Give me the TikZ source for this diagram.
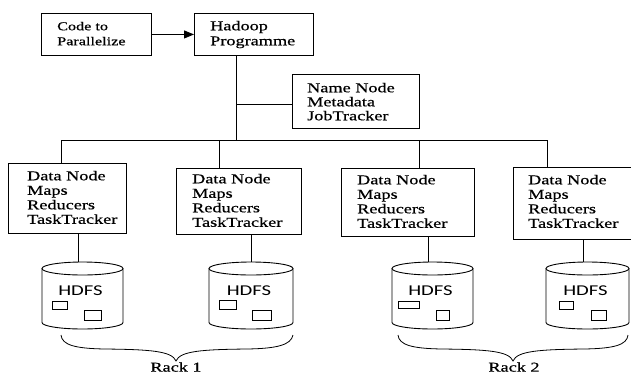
\documentclass[tikz,border=0pt]{standalone}
\usepackage{fontspec}
\setmainfont[FakeStretch=1.35,FakeBold=0.6]{Liberation Serif}
\newfontfamily\hdfsfont[FakeStretch=1.38]{Carlito}
\usetikzlibrary{arrows.meta,calc}
\begin{document}
\begin{tikzpicture}[x=1pt,y=-1pt,
 bx/.style={draw, line width=0.9pt, inner sep=0pt, anchor=north west},
 tx/.style={align=left, inner sep=0pt, anchor=north west},
 dnf/.style={font=\fontsize{13.5}{14.5}\selectfont},
 ln/.style={line width=0.9pt},
 hd/.style={font=\hdfsfont\fontsize{15}{15}\selectfont, inner sep=0pt},
 sq/.style={line width=0.8pt},
 rk/.style={font=\fontsize{13.5}{14.5}\selectfont, inner sep=0pt},
 br/.style={line width=0.8pt}]
\useasboundingbox (0,0) rectangle (631,373);

% top boxes
\node[bx, minimum width=110, minimum height=42] (code) at (41,13) {};
\node[tx, font=\fontsize{12}{15}\selectfont] (codet) at (57,21.7) {Code to\\Parallelize};
\node[bx, minimum width=119, minimum height=42] (hp) at (194,13) {};
\node[tx, font=\fontsize{13.5}{15}\selectfont] (hpt) at (210,20.7) {Hadoop\\Programme};
\node[bx, minimum width=127, minimum height=54] (nn) at (292,74) {};
\node[tx, font=\fontsize{13.5}{14}\selectfont] (nnt) at (307,82.7) {Name Node\\Metadata\\JobTracker};

% data nodes
\node[bx, minimum width=118, minimum height=70] (dn1) at (8,163) {};
\node[tx, dnf] (dn1t) at (27,170.7) {Data Node\\Maps\\Reducers\\TaskTracker};
\node[bx, minimum width=125, minimum height=66] (dn2) at (176,168) {};
\node[tx, dnf] (dn2t) at (192,173.7) {Data Node\\Maps\\Reducers\\TaskTracker};
\node[bx, minimum width=133, minimum height=68] (dn3) at (341,168) {};
\node[tx, dnf] (dn3t) at (357,174.7) {Data Node\\Maps\\Reducers\\TaskTracker};
\node[bx, minimum width=117.5, minimum height=72] (dn4) at (513,167) {};
\node[tx, dnf] (dn4t) at (528,174.7) {Data Node\\Maps\\Reducers\\TaskTracker};

% arrow
\draw[ln, -{Triangle[length=10pt,width=8pt]}] (code.east) -- (hp.west);

% connectors
\coordinate (j0) at (236,140);
\coordinate (jn) at (236,104);
\draw[ln] (hp.south -| j0) -- (j0);
\draw[ln] (jn) -- (jn -| nn.west);
\coordinate (b1) at (61,140);
\coordinate (b2) at (219,140);
\coordinate (b3) at (419,140);
\coordinate (b4) at (547,140);
\draw[ln] (b1) -- (b4);
\draw[ln] (b1) -- (b1 |- dn1.north);
\draw[ln] (b2) -- (b2 |- dn2.north);
\draw[ln] (b3) -- (b3 |- dn3.north);
\draw[ln] (b4) -- (b4 |- dn4.north);

% cylinders
\foreach \L/\R/\n in {42/123/1, 209/293/2, 392/473/3, 546/629/4}{
  \pgfmathsetmacro\cx{(\L+\R)/2}
  \pgfmathsetmacro\rx{(\R-\L)/2}
  \draw[ln] (\L,268.5) -- (\L,322.5) arc[start angle=180,end angle=0,x radius=\rx,y radius=6.5] -- (\R,268.5);
  \draw[ln] (\cx,268.5) ellipse[x radius=\rx,y radius=6.5];
  \node[hd] (hd\n) at (\cx-2,291) {HDFS};
}
\coordinate (t1) at (78,262);
\coordinate (t2) at (251,262);
\coordinate (t3) at (428,262);
\coordinate (t4) at (583,262);
\draw[ln] (dn1.south -| t1) -- (t1);
\draw[ln] (dn2.south -| t2) -- (t2);
\draw[ln] (dn3.south -| t3) -- (t3);
\draw[ln] (dn4.south -| t4) -- (t4);

% small blocks
\draw[sq] (52,301) rectangle (67,309);
\draw[sq] (84,310) rectangle (101,320);
\draw[sq] (219,300) rectangle (236,309);
\draw[sq] (252,310) rectangle (271,320);
\draw[sq] (398,301) rectangle (419,308);
\draw[sq] (436,310) rectangle (449,320);
\draw[sq] (559,301) rectangle (573,309);
\draw[sq] (591,310) rectangle (606,320);

% braces
\draw[br] (61,335) .. controls (62,345) and (75,348.5) .. (105,349)
  .. controls (150,349.5) and (172,351) .. (176,361)
  .. controls (180,351) and (202,349.5) .. (247,349)
  .. controls (277,348.5) and (291,345) .. (293,335);
\draw[br] (398,335) .. controls (399,345) and (412,348.5) .. (442,349)
  .. controls (487,349.5) and (509,351) .. (513,361)
  .. controls (517,351) and (539,349.5) .. (584,349)
  .. controls (614,348.5) and (627,345) .. (628,335);
\node[rk] (rack1) at (176,367) {Rack 1};
\node[rk] (rack2) at (514,367) {Rack 2};
\end{tikzpicture}
\end{document}
